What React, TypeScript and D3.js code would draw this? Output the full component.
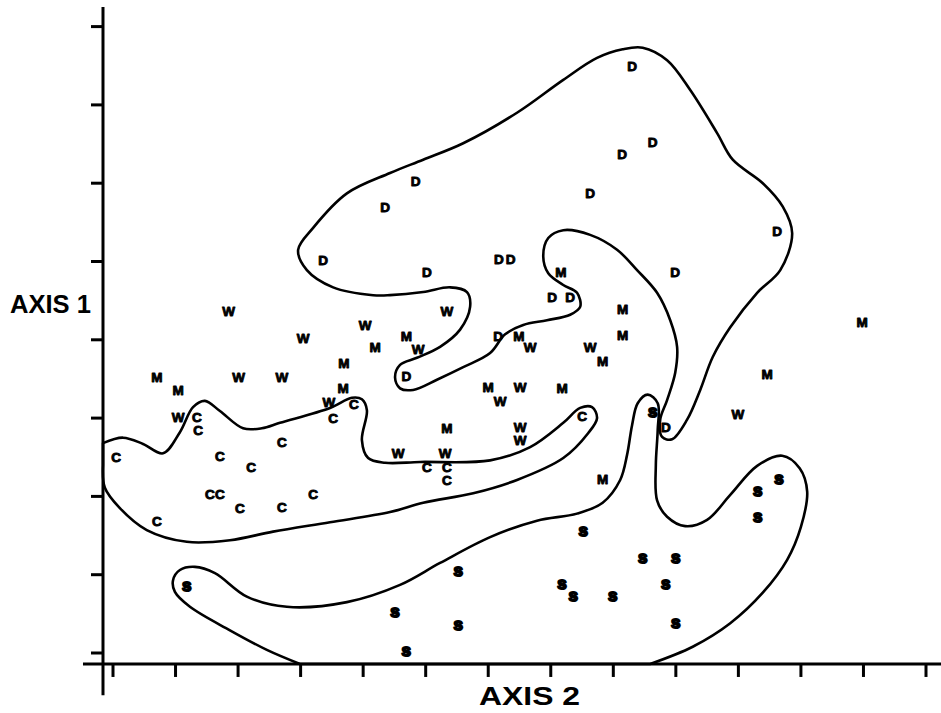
import React from 'react';
import * as d3 from 'd3';

type P = [number, number];

const WIDTH = 941;
const HEIGHT = 713;

const xTicks: number[] = d3.range(0, 14);
const yTicks: number[] = d3.range(0, 9);
const xAxisLabel = 'AXIS 2';
const yAxisLabel = 'AXIS 1';

const groupD: P[] = [
  [8.30, 7.50], [8.63, 6.53], [8.14, 6.37], [4.84, 6.02], [7.63, 5.87], [4.35, 5.70],
  [10.62, 5.39], [3.36, 5.02], [5.02, 4.87], [6.17, 5.03], [6.36, 5.03], [8.99, 4.87],
  [7.02, 4.55], [7.31, 4.55], [6.16, 4.05], [4.69, 3.54], [8.84, 2.89],
];
const groupM: P[] = [
  [7.16, 4.87], [8.15, 4.39], [8.15, 4.06], [4.69, 4.05], [6.49, 4.05], [7.83, 3.73],
  [4.19, 3.90], [3.69, 3.70], [0.70, 3.52], [1.04, 3.36], [3.68, 3.38], [6.00, 3.40],
  [7.18, 3.38], [5.34, 2.87], [7.83, 2.22], [11.98, 4.23], [10.46, 3.56],
];
const groupW: P[] = [
  [1.85, 4.36], [3.04, 4.02], [4.03, 4.19], [5.34, 4.37], [4.88, 3.88], [6.67, 3.90],
  [7.63, 3.90], [2.01, 3.52], [2.70, 3.52], [6.51, 3.40], [6.19, 3.22], [3.45, 3.21],
  [1.04, 3.01], [6.51, 2.89], [6.51, 2.72], [4.56, 2.55], [5.31, 2.55], [9.99, 3.05],
];
const groupC: P[] = [
  [7.50, 3.03], [3.85, 3.18], [3.52, 3.00], [1.34, 3.01], [1.36, 2.84], [2.70, 2.69],
  [0.05, 2.50], [1.71, 2.52], [2.21, 2.38], [5.02, 2.37], [5.34, 2.38], [5.34, 2.21],
  [1.55, 2.03], [1.71, 2.03], [2.03, 1.85], [2.70, 1.86], [3.20, 2.03], [0.70, 1.69],
];
const groupS: P[] = [
  [8.63, 3.07], [7.52, 1.56], [8.47, 1.21], [9.00, 1.21], [5.52, 1.05], [7.18, 0.88],
  [8.84, 0.88], [7.36, 0.72], [7.99, 0.73], [4.51, 0.52], [5.52, 0.36], [9.00, 0.38],
  [4.69, 0.03], [10.31, 2.07], [10.65, 2.22], [10.31, 1.74], [1.18, 0.86],
];

const boundaryD: P[] = [
  [2.96, 5.15], [3.20, 5.43], [3.74, 5.87], [4.43, 6.13], [4.96, 6.30], [5.60, 6.51],
  [6.46, 6.90], [7.20, 7.32], [7.74, 7.60], [8.15, 7.71], [8.47, 7.73], [8.86, 7.57],
  [9.23, 7.19], [9.66, 6.64], [9.91, 6.30], [10.39, 6.00], [10.71, 5.70], [10.86, 5.36],
  [10.67, 4.89], [10.30, 4.60], [9.87, 4.16], [9.59, 3.78], [9.39, 3.36], [9.18, 2.98],
  [8.94, 2.73], [8.78, 2.76], [8.75, 2.98], [8.86, 3.23], [8.99, 3.58], [9.02, 3.91],
  [8.91, 4.25], [8.70, 4.60], [8.38, 4.89], [8.06, 5.15], [7.63, 5.34], [7.20, 5.40],
  [6.96, 5.30], [6.88, 5.06], [6.96, 4.85], [7.20, 4.70], [7.42, 4.60], [7.47, 4.42],
  [7.31, 4.32], [6.94, 4.25], [6.56, 4.19], [6.27, 4.07], [6.03, 3.83], [5.60, 3.65],
  [5.18, 3.49], [4.80, 3.36], [4.59, 3.38], [4.51, 3.52], [4.59, 3.68], [4.86, 3.77],
  [5.23, 3.91], [5.55, 4.13], [5.71, 4.42], [5.66, 4.61], [5.39, 4.67], [4.96, 4.61],
  [4.43, 4.57], [4.16, 4.57], [3.52, 4.67], [3.10, 4.89],
];

const boundaryC: P[] = [
  [-0.16, 2.68], [0.16, 2.75], [0.48, 2.67], [0.80, 2.55], [1.07, 2.82], [1.28, 3.14],
  [1.47, 3.22], [1.71, 3.09], [2.08, 2.87], [2.38, 2.87], [2.67, 2.94], [3.47, 3.13],
  [3.82, 3.26], [3.98, 3.24], [4.06, 3.10], [3.98, 2.72], [4.08, 2.49], [4.35, 2.43],
  [4.91, 2.44], [6.03, 2.46], [6.67, 2.63], [7.20, 2.94], [7.47, 3.13], [7.66, 3.14],
  [7.74, 3.00], [7.60, 2.81], [7.20, 2.49], [6.46, 2.21], [5.76, 2.04], [4.96, 1.92],
  [4.43, 1.80], [3.47, 1.67], [2.56, 1.55], [1.87, 1.44], [1.18, 1.42], [0.54, 1.57],
  [0.11, 1.85], [-0.13, 2.11], [-0.16, 2.40],
];

const boundaryS: P[] = [
  [2.99, -0.14], [2.46, 0.04], [1.87, 0.29], [1.23, 0.59], [0.99, 0.78], [0.96, 0.93],
  [1.07, 1.06], [1.31, 1.10], [1.63, 1.02], [2.14, 0.72], [2.78, 0.59], [3.74, 0.65],
  [4.59, 0.87], [5.23, 1.15], [6.03, 1.48], [6.78, 1.69], [7.42, 1.78], [7.83, 1.92],
  [8.11, 2.21], [8.22, 2.53], [8.30, 2.91], [8.39, 3.19], [8.55, 3.30], [8.71, 3.19],
  [8.71, 2.85], [8.68, 2.40], [8.70, 1.95], [8.86, 1.74], [9.15, 1.62], [9.50, 1.70],
  [9.87, 2.02], [10.30, 2.39], [10.70, 2.52], [10.98, 2.36], [11.10, 2.06], [11.00, 1.61],
  [10.78, 1.19], [10.39, 0.77], [9.87, 0.38], [9.27, 0.08], [8.59, -0.14],
];

const groups: { label: string; pts: P[] }[] = [
  { label: 'D', pts: groupD },
  { label: 'M', pts: groupM },
  { label: 'W', pts: groupW },
  { label: 'C', pts: groupC },
  { label: 'S', pts: groupS },
];

export default function App() {
  const x = d3.scaleLinear().domain([0, 13]).range([113, 926]);
  const y = d3.scaleLinear().domain([0, 8]).range([653, 26.6]);

  const openLine = d3
    .line<P>()
    .x((d) => x(d[0]))
    .y((d) => y(d[1]))
    .curve(d3.curveCatmullRom.alpha(0.5));
  const closedLine = d3
    .line<P>()
    .x((d) => x(d[0]))
    .y((d) => y(d[1]))
    .curve(d3.curveCatmullRomClosed.alpha(0.5));

  const axisX = x(-0.16);
  const axisY = y(-0.14);
  const font = 'Arial, "Liberation Sans", Helvetica, sans-serif';

  return (
    <svg
      width={WIDTH}
      height={HEIGHT}
      style={{ position: 'absolute', left: 0, top: 0, background: '#fff', display: 'block' }}
    >
      <g fill="none" stroke="#000" strokeWidth={2.6} strokeLinejoin="round">
        <path d={closedLine(boundaryD) || ''} />
        <path d={(openLine(boundaryC) || '') + 'Z'} />
        <path d={(openLine(boundaryS) || '') + 'Z'} />
      </g>

      {/* axes */}
      <g stroke="#000" strokeWidth={3}>
        <line x1={axisX} x2={axisX} y1={y(8.25)} y2={y(-0.54)} />
        <line x1={x(-0.48)} x2={WIDTH} y1={axisY} y2={axisY} />
        {yTicks.map((t) => (
          <line key={'yt' + t} x1={axisX - 12} x2={axisX} y1={y(t)} y2={y(t)} />
        ))}
        {xTicks.map((t) => (
          <line key={'xt' + t} x1={x(t)} x2={x(t)} y1={axisY} y2={axisY + 13} />
        ))}
      </g>

      <g fontFamily={font} fontWeight={900} fontSize={13.5} textAnchor="middle">
        {groups.map((g) =>
          g.pts.map((p, i) => (
            <text
              key={g.label + i}
              x={x(p[0])}
              y={y(p[1])}
              dy="0.36em"
              fill="#000"
              stroke="#000"
              strokeWidth={g.label === 'S' ? 2 : 0.9}
              strokeLinejoin="round"
            >
              {g.label}
            </text>
          ))
        )}
      </g>

      <text
        x={10}
        y={313}
        fontFamily={font}
        fontWeight={700}
        fontSize={26}
        textLength={81}
        lengthAdjust="spacingAndGlyphs"
        fill="#000"
      >
        {yAxisLabel}
      </text>
      <text
        x={479}
        y={705}
        fontFamily={font}
        fontWeight={700}
        fontSize={25}
        textLength={101}
        lengthAdjust="spacingAndGlyphs"
        fill="#000"
      >
        {xAxisLabel}
      </text>
    </svg>
  );
}
